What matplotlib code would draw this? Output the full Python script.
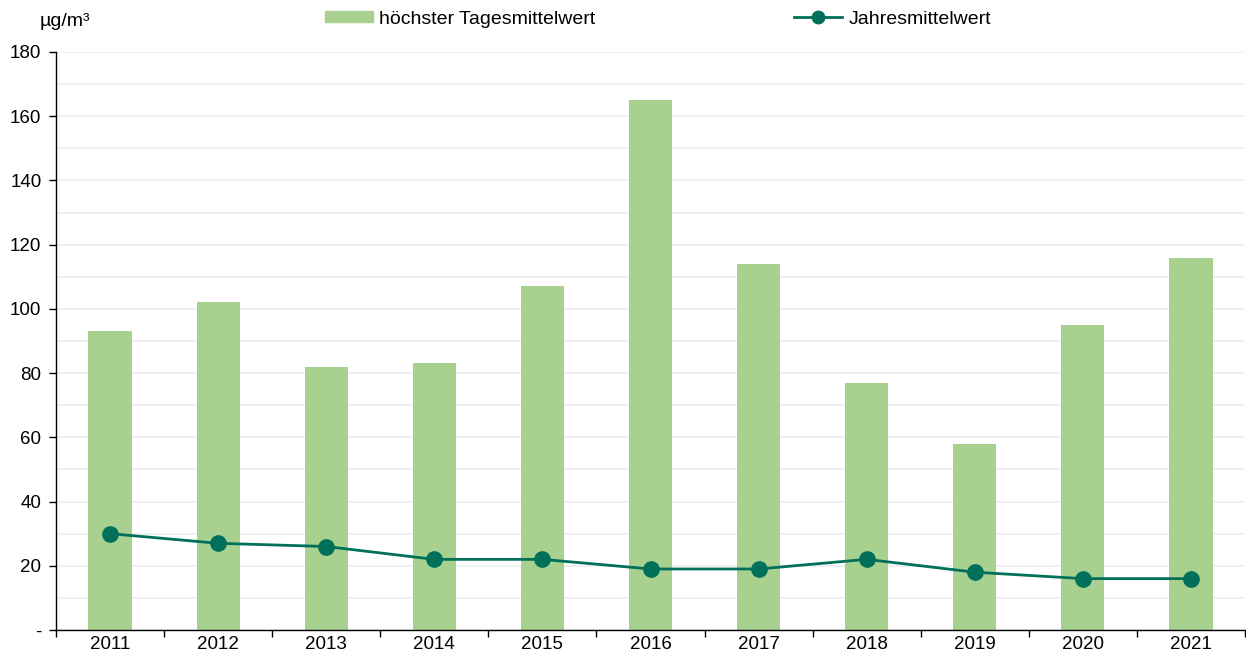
import matplotlib
matplotlib.use("Agg")
import matplotlib.pyplot as plt
from matplotlib.lines import Line2D
from matplotlib.patches import Patch
import numpy as np

# data
years = ["2011", "2012", "2013", "2014", "2015", "2016", "2017", "2018", "2019", "2020", "2021"]
max_daily = [93, 102, 82, 83, 107, 165, 114, 77, 58, 95, 116]
annual_mean = [30, 27, 26, 22, 22, 19, 19, 22, 18, 16, 16]
y_ticks = [0, 20, 40, 60, 80, 100, 120, 140, 160, 180]
y_labels = ["-", "20", "40", "60", "80", "100", "120", "140", "160", "180"]

bar_color = "#a8d18f"
line_color = "#00705a"

plt.rcParams["font.family"] = ["Liberation Sans", "DejaVu Sans"]

fig = plt.figure(figsize=(12.46, 6.53), dpi=100)
ax = fig.add_axes([56 / 1246, 1 - 630 / 653, 1189 / 1246, (630 - 52) / 653])

x = np.arange(len(years))
ax.bar(x, max_daily, width=0.4, color=bar_color, zorder=2)
ax.plot(x, annual_mean, color=line_color, lw=2, marker="o", markersize=11, zorder=3)

ax.set_xlim(-0.5, len(years) - 0.5)
ax.set_ylim(0, 180)

# y axis: labelled ticks every 20, light grid every 10
ax.set_yticks(y_ticks)
ax.set_yticklabels(y_labels)
ax.set_yticks(np.arange(0, 181, 10), minor=True)
ax.grid(axis="y", which="both", color="#efefef", lw=1.3, zorder=0)
ax.tick_params(axis="y", which="major", length=5, width=1, pad=5.5, labelsize=13.5)
ax.tick_params(axis="y", which="minor", length=0)

# x axis: tick marks between categories, labels centred
ax.set_xticks(np.arange(-0.5, len(years), 1))
ax.set_xticklabels([])
ax.set_xticks(x, minor=True)
ax.set_xticklabels(years, minor=True)
ax.tick_params(axis="x", which="major", length=5, width=1)
ax.tick_params(axis="x", which="minor", length=0, pad=4.5, labelsize=13.5)

for side in ["top", "right"]:
    ax.spines[side].set_visible(False)
ax.spines["left"].set_linewidth(1)
ax.spines["bottom"].set_linewidth(1)

fig.text(40 / 1246, 1 - 22 / 653, "µg/m³", fontsize=14, ha="left", va="center")

handles = [
    Patch(color=bar_color, label="höchster Tagesmittelwert"),
    Line2D([], [], color=line_color, lw=2, marker="o", markersize=9, label="Jahresmittelwert"),
]
fig.legend(handles=handles, loc="center", bbox_to_anchor=(0.528, 1 - 19 / 653), ncol=2,
           frameon=False, fontsize=14, handlelength=2.5, handleheight=0.5,
           handletextpad=0.3, columnspacing=10.2)

fig.savefig("out.png", dpi=100)
